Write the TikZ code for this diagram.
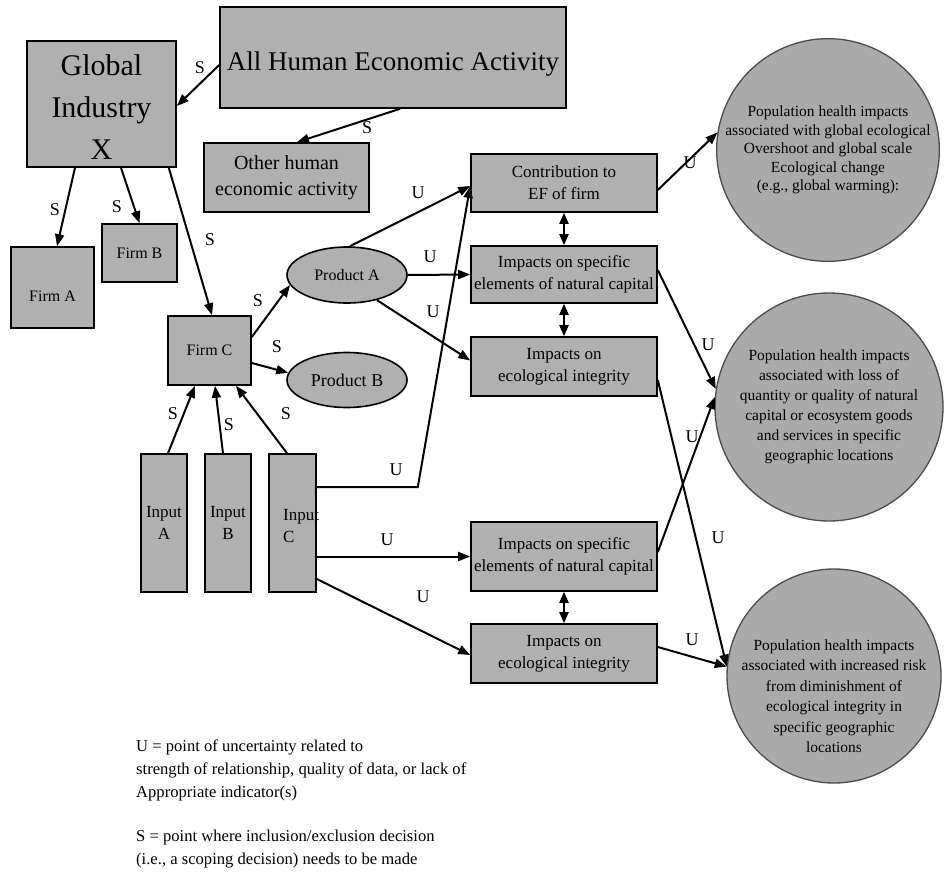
\documentclass[tikz,border=0pt]{standalone}
\usepackage{fontspec}
\setmainfont{Liberation Serif}
\usetikzlibrary{arrows.meta,shapes.geometric}
\definecolor{boxgray}{RGB}{176,176,176}
\definecolor{circgray}{RGB}{170,170,170}

\begin{document}
\begin{tikzpicture}[x=1pt,y=-1pt,
  box/.style={draw=black, line width=1.6pt, fill=boxgray, inner sep=0pt, align=center},
  oval/.style={ellipse, draw=black, line width=1.6pt, fill=boxgray, inner sep=0pt, align=center},
  circ/.style={circle, draw=black!70, line width=1.3pt, fill=circgray, inner sep=0pt, align=center},
  txt/.style={inner sep=0pt, align=center},
  lab/.style={font=\fontsize{18}{18}\selectfont, inner sep=0pt},
  legend/.style={font=\fontsize{16.6}{23}\selectfont, inner sep=0pt, align=left},
  arr/.style={line width=2pt, -{Triangle[length=12pt,width=9pt]}},
  darr/.style={line width=2pt, {Triangle[length=11pt,width=9pt]}-{Triangle[length=11pt,width=9pt]}},
  impact/.style={box, minimum width=186pt, font=\fontsize{17}{22}\selectfont},
]
\fill[white] (0,0) rectangle (944,875);
\useasboundingbox (0,0) rectangle (944,875);

% economic activity side
\node[box, minimum width=149pt, minimum height=126pt] (gix) at (101.5,104) {};
\node[txt, font=\fontsize{30}{42}\selectfont] (gixtext) at (101.5,107) {Global\\Industry\\X};
\node[box, minimum width=346pt, minimum height=101pt] (aha) at (393,57.5) {};
\node[txt, font=\fontsize{27}{30}\selectfont] (ahatext) at (393,64) {All Human Economic Activity};
\node[box, minimum width=165pt, minimum height=69pt, font=\fontsize{20}{26}\selectfont] (other) at (286.5,177.5) {Other human\\economic activity};
\node[box, minimum width=83pt, minimum height=81pt] (firmA) at (52.5,287.5) {};
\node[txt, font=\fontsize{16}{18}\selectfont] (firmAtext) at (52.5,296) {Firm A};
\node[box, minimum width=75pt, minimum height=58pt, font=\fontsize{16}{18}\selectfont] (firmB) at (139.5,253) {Firm B};
\node[box, minimum width=83pt, minimum height=69pt, font=\fontsize{16}{18}\selectfont] (firmC) at (209.5,350.5) {Firm C};
\node[oval, minimum width=120pt, minimum height=56pt, font=\fontsize{16}{18}\selectfont] (prodA) at (347,275) {Product A};
\node[oval, minimum width=120pt, minimum height=55pt, font=\fontsize{18}{20}\selectfont] (prodB) at (347,380) {Product B};
\node[box, minimum width=46pt, minimum height=138pt, font=\fontsize{17}{22}\selectfont] (inA) at (164,523) {Input\\A};
\node[box, minimum width=46pt, minimum height=138pt, font=\fontsize{17}{22}\selectfont] (inB) at (228,523) {Input\\B};
\node[box, minimum width=47pt, minimum height=138pt] (inC) at (292.5,523) {};
\node[inner sep=0pt, align=left, anchor=west, font=\fontsize{17}{22}\selectfont] (inCtext) at (283,526) {Input\\C};

% impact side
\node[impact, minimum height=58pt] (contrib) at (564,183) {Contribution to\\EF of firm};
\node[impact, minimum height=57pt] (spec1) at (564,274.5) {Impacts on specific\\elements of natural capital};
\node[impact, minimum height=59pt] (eco1) at (564,366.5) {Impacts on\\ecological integrity};
\node[impact, minimum height=69pt] (spec2) at (564,556.5) {Impacts on specific\\elements of natural capital};
\node[impact, minimum height=59pt] (eco2) at (564,653.5) {Impacts on\\ecological integrity};

% health outcomes
\node[circ, minimum size=214pt, font=\fontsize{15.5}{18.5}\selectfont] (c1) at (828,150) {Population health impacts\\associated with global ecological\\Overshoot and global scale\\Ecological change\\(e.g., global warming):};
\node[circ, minimum size=228pt, font=\fontsize{15.5}{20}\selectfont] (c2) at (829,407) {Population health impacts\\associated with loss of\\quantity or quality of natural\\capital or ecosystem goods\\and services in specific\\geographic locations};
\node[circ, minimum size=214pt] (c3) at (834,676) {};
\node[txt, font=\fontsize{15.5}{20.5}\selectfont] (c3text) at (834,696) {Population health impacts\\associated with increased risk\\from diminishment of\\ecological integrity in\\specific geographic\\locations};

% scoping connectors
\draw[arr] ([yshift=-7.5pt]aha.west) -- ([yshift=-2pt]gix.east);
\draw[arr] ([xshift=7pt]aha.south) -- ([xshift=10.5pt]other.north);
\draw[arr] ([xshift=-26.5pt]gix.south) -- ([xshift=4.5pt]firmA.north);
\draw[arr] ([xshift=19.5pt]gix.south) -- (firmB.north);
\draw[arr] ([xshift=-8pt]gix.south east) -- ([xshift=2.5pt]firmC.north);
\draw[arr] ([yshift=13.5pt]firmC.east) -- (prodA.190);
\draw[arr] ([yshift=-12.5pt]firmC.east) -- (prodB.173);
\draw[arr] ([xshift=4pt]inA.north) -- ([xshift=-14.5pt]firmC.south);
\draw[arr] ([xshift=-5pt]inB.north) -- ([xshift=5.5pt]firmC.south);
\draw[arr] ([xshift=-5.5pt]inC.north) -- ([xshift=26.5pt]firmC.south);

% uncertainty connectors
\draw[arr] ([yshift=36pt]inC.east) -- ++(101,0) -- ([yshift=-3pt]contrib.west);
\draw[arr] (inC.east |- spec2.west) -- (spec2.west);
\draw[arr] ([yshift=-56pt]inC.east) -- ([yshift=-1.5pt]eco2.west);
\draw[arr] ([xshift=3pt]prodA.north) -- ([yshift=-3pt]contrib.west);
\draw[arr] (prodA.east) -- (spec1.west);
\draw[arr] (prodA.-40) -- ([yshift=6pt]eco1.west);
\draw[darr] (contrib.south) -- (spec1.north);
\draw[darr] (spec1.south) -- (eco1.north);
\draw[darr] (spec2.south) -- (eco2.north);
\draw[arr] ([yshift=-7pt]contrib.east) -- (c1.171);
\draw[arr] ([yshift=4.5pt]spec1.east) -- (c2.171);
\draw[arr] ([yshift=4.5pt]spec2.east) -- (c2.175);
\draw[arr] ([yshift=-13.5pt]eco1.east) -- (c3.175);
\draw[arr] ([yshift=6.5pt]eco2.east) -- (c3.175);

% S labels
\node[lab] (sAG) at (200,68) {S};
\node[lab] (sAO) at (367,128) {S};
\node[lab] (sFA) at (55,210) {S};
\node[lab] (sFB) at (117,207) {S};
\node[lab] (sFC) at (210,240) {S};
\node[lab] (sPA) at (258,301) {S};
\node[lab] (sPB) at (277,347) {S};
\node[lab] (sIA) at (173,414) {S};
\node[lab] (sIB) at (229,425) {S};
\node[lab] (sIC) at (286,414) {S};

% U labels
\node[lab] (uIC1) at (396,470) {U};
\node[lab] (uIC2) at (387,540) {U};
\node[lab] (uIC3) at (423,597) {U};
\node[lab] (uPA1) at (418,193) {U};
\node[lab] (uPA2) at (430,257) {U};
\node[lab] (uPA3) at (433,312) {U};
\node[lab] (uC1) at (690,163) {U};
\node[lab] (uS1) at (708,345) {U};
\node[lab] (uS2) at (692,437) {U};
\node[lab] (uE1) at (718,538) {U};
\node[lab] (uE2) at (692,640) {U};

% key
\node[legend, anchor=north west] (legU) at (136,740) {U = point of uncertainty related to\\strength of relationship, quality of data, or lack of\\Appropriate indicator(s)};
\node[legend, anchor=north west] (legS) at (136,830) {S = point where inclusion/exclusion decision\\(i.e., a scoping decision) needs to be made};
\end{tikzpicture}
\end{document}
